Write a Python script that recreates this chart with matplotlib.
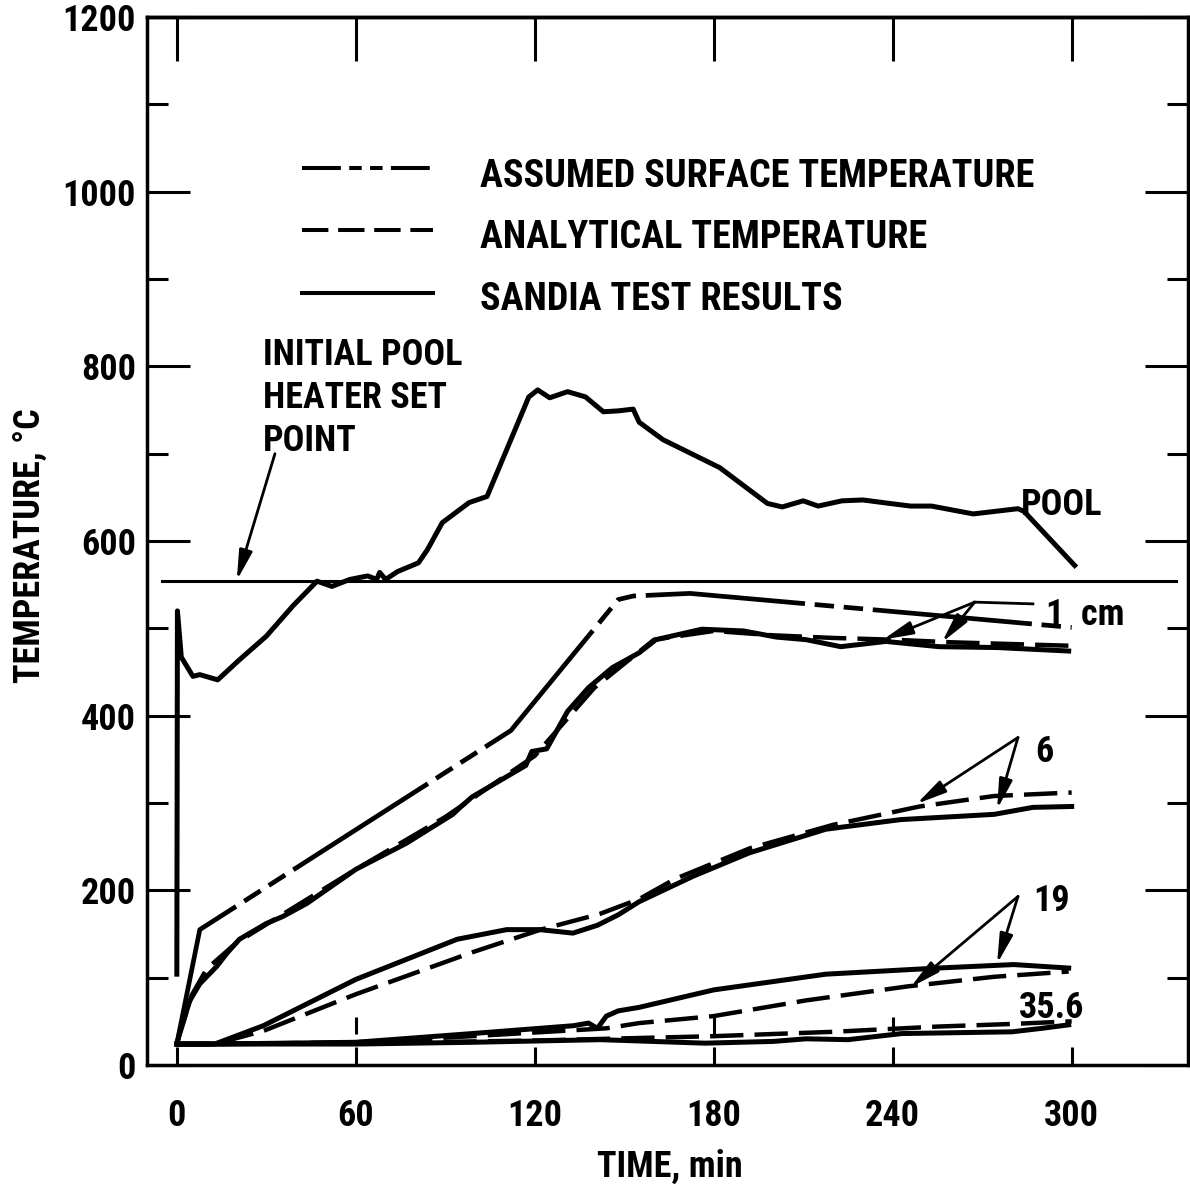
#pool and specimen temperatures vs time, sandia test

#import necessary libraries
import numpy as np
import matplotlib
matplotlib.use('Agg')
import matplotlib.pyplot as plt
from matplotlib.lines import Line2D

plt.rcParams['font.family'] = ['Roboto Condensed', 'Roboto', 'DejaVu Sans']
plt.rcParams['font.weight'] = 'bold'
plt.rcParams['lines.scale_dashes'] = False

# --- data (time in min, temperature in deg C) ---
time_ticks = [0, 60, 120, 180, 240, 300]
temp_ticks = [0, 200, 400, 600, 800, 1000, 1200]
temp_minor = [100, 300, 500, 700, 900, 1100]

setpoint_T = 554
setpoint_t = [-5, 335]

pool_t = [0, 0.2, 1.5, 5.4, 7.7, 13.7, 21, 30, 39, 47, 52, 58, 64, 67, 68, 70, 74,
          81, 84, 89, 98, 104, 111, 118, 121, 125, 131, 137, 143, 148, 153, 155,
          163, 182, 198, 203, 210, 215, 223, 230, 239, 246, 253, 267, 282, 284, 301]
pool_T = [104, 520, 467, 445, 447, 441, 464, 491, 526, 554, 548, 556, 560, 556, 564, 556, 565,
          575, 590, 621, 644, 651, 708, 765, 773, 764, 771, 765, 748, 749, 751, 736,
          716, 684, 643, 639, 646, 640, 646, 647, 643, 640, 640, 631, 637, 634, 572]

# assumed surface temperature (1 cm)
surf_t = [0, 7.7, 112, 148, 153, 172, 300]
surf_T = [24, 155, 383, 533, 537, 540, 501]

# sandia test results
s1_t = [0, 1, 4.4, 7.7, 13.4, 16.8, 21, 30, 35.5, 43.6, 60, 77, 92.5, 95, 99, 117, 119,
        124, 131, 138, 146, 155, 160.6, 176, 190, 201, 211, 222.6, 237.7, 255.5, 275, 299]
s1_T = [24, 38, 74, 93, 113, 128, 144, 162, 170, 185, 224, 254, 287, 295, 307, 343, 359,
        362, 405, 432, 455, 472, 487, 499, 497, 490, 487, 479, 485, 479, 478, 474]

s6_t = [0, 12.7, 29, 60, 94, 110.6, 121.7, 132.8, 141, 148, 155, 173, 192, 217.6,
        242.7, 274, 287, 300]
s6_T = [24, 24, 45, 98, 144, 155, 155, 151, 160, 172, 187, 216, 243, 270,
        281, 287, 295, 296]

s19_t = [0, 12.7, 60, 99, 133, 138, 141, 144, 148, 155, 180, 217.6, 255, 280.6, 299]
s19_T = [24, 24, 26, 36, 45, 48, 42, 56, 62, 66, 86, 104, 111, 115, 111]

s36_t = [0, 60, 99, 142, 177, 200, 211, 225, 243, 280, 290, 299]
s36_T = [24, 24, 26, 29, 25, 27, 30, 29, 36, 38, 42, 46]

# analytical temperature
a1_t = [0, 5, 10, 20, 40, 60, 90, 120, 140, 160, 180, 200, 220, 240, 260, 280, 300]
a1_T = [24, 80, 110, 140, 182, 224, 284, 354, 432, 487, 497, 492, 489, 487, 484, 482, 480]

a6_t = [0, 12.7, 29, 60, 99, 122, 141.8, 155, 167, 192, 220, 249, 274, 300]
a6_T = [24, 24, 39, 81, 129, 155, 173, 190, 213, 248, 275, 296, 308, 312]

a19_t = [0, 12.7, 60, 99, 144, 155, 180, 211, 245, 274, 299]
a19_T = [24, 24, 26, 33, 42, 48, 56, 74, 90, 101, 107]

a36_t = [0, 60, 120, 180, 220, 255, 280, 300]
a36_T = [24, 25, 28, 33, 38, 44, 47, 50]

grid_marks = [60, 180, 240]

W, H = 1190, 1196


def fxy(x, y):
    # figure pixel (top-left origin) -> figure fraction
    return x / W, 1 - y / H


fig = plt.figure(figsize=(W / 100, H / 100), dpi=100)
ax = fig.add_axes([147 / W, 1 - 1065 / H, (1188 - 147) / W, (1065 - 17) / H])

surf_dash = (0, (115, 7, 14, 7, 14, 7))
anal_dash = (0, (24, 8))

# plot the curves
ax.plot(pool_t, pool_T, color='black', lw=3.6)
ax.plot(setpoint_t, [setpoint_T, setpoint_T], color='black', lw=2.2)
ax.plot(surf_t, surf_T, color='black', lw=3.4, linestyle=surf_dash)
for t, T in [(s1_t, s1_T), (s6_t, s6_T), (s19_t, s19_T), (s36_t, s36_T)]:
    ax.plot(t, T, color='black', lw=3.6)
for t, T in [(a1_t, a1_T), (a6_t, a6_T), (a19_t, a19_T), (a36_t, a36_T)]:
    ax.plot(t, T, color='black', lw=3.2, linestyle=anal_dash)
ax.vlines(grid_marks, 35, 55, color='black', lw=2.2)

# axes and ticks
ax.set_xlim(-10, 339)
ax.set_ylim(0, 1200)
ax.set_xticks(time_ticks)
ax.set_yticks(temp_ticks)
ax.set_yticks(temp_minor, minor=True)
ax.tick_params(axis='x', direction='in', length=13, width=2.2, pad=24,
               labelsize=26, top=False)
ax.tick_params(axis='y', which='major', direction='in', length=31, width=2.2,
               left=True, right=True, pad=8, labelsize=26)
ax.tick_params(axis='y', which='minor', direction='in', length=15, width=2.2,
               left=True, right=True)
for s in ax.spines.values():
    s.set_linewidth(2.5)

top = ax.secondary_xaxis('top')
top.set_xticks(time_ticks)
top.tick_params(direction='in', length=32, width=2.2, labeltop=False)
top.spines['top'].set_linewidth(2.5)

fig.text(*fxy(30, 546), 'TEMPERATURE, °C', rotation=90, ha='center', va='center',
         fontsize=26)
fig.text(*fxy(670, 1177), 'TIME, min', ha='center', va='baseline', fontsize=26)

# legend drawn by hand
leg = [('ASSUMED SURFACE TEMPERATURE', (0, (28, 6, 9, 6, 9, 6)), 168, 187),
       ('ANALYTICAL TEMPERATURE', (0, (19, 7)), 230, 248),
       ('SANDIA TEST RESULTS', '-', 293, 310)]
for label, ls, ly, ty in leg:
    x0, y0 = fxy(302, ly)
    x1, _ = fxy(433, ly)
    fig.add_artist(Line2D([x0, x1], [y0, y0], transform=fig.transFigure,
                          color='black', lw=2.9, linestyle=ls))
    fig.text(*fxy(480, ty), label, ha='left', va='baseline', fontsize=27.5)

# labels on the plot
for txt, x, y in [('INITIAL POOL', 263, 365), ('HEATER SET', 263, 408),
                  ('POINT', 263, 451), ('POOL', 1021, 515), ('1  cm', 1046, 625),
                  ('6', 1035, 762), ('19', 1033, 911), ('35.6', 1019, 1018)]:
    fig.text(*fxy(x, y), txt, ha='left', va='baseline', fontsize=26)

arrow = dict(arrowstyle='-|>,head_length=0.9,head_width=0.2', color='black',
             lw=2.0, shrinkA=0, shrinkB=0, mutation_scale=20)
ax.annotate('', xy=(20.1, 555), xytext=(32.9, 700), arrowprops=arrow)
ax.plot([267.5, 287], [530, 528], color='black', lw=2.0)
ax.annotate('', xy=(236.7, 487), xytext=(267.5, 530), arrowprops=arrow)
ax.annotate('', xy=(256.5, 484), xytext=(267.5, 530), arrowprops=arrow)
ax.annotate('', xy=(248, 299), xytext=(282, 375), arrowprops=arrow)
ax.annotate('', xy=(275, 293), xytext=(282, 375), arrowprops=arrow)
ax.annotate('', xy=(246, 89), xytext=(282, 193), arrowprops=arrow)
ax.annotate('', xy=(275, 116), xytext=(282, 193), arrowprops=arrow)

fig.savefig('out.png', dpi=100)
